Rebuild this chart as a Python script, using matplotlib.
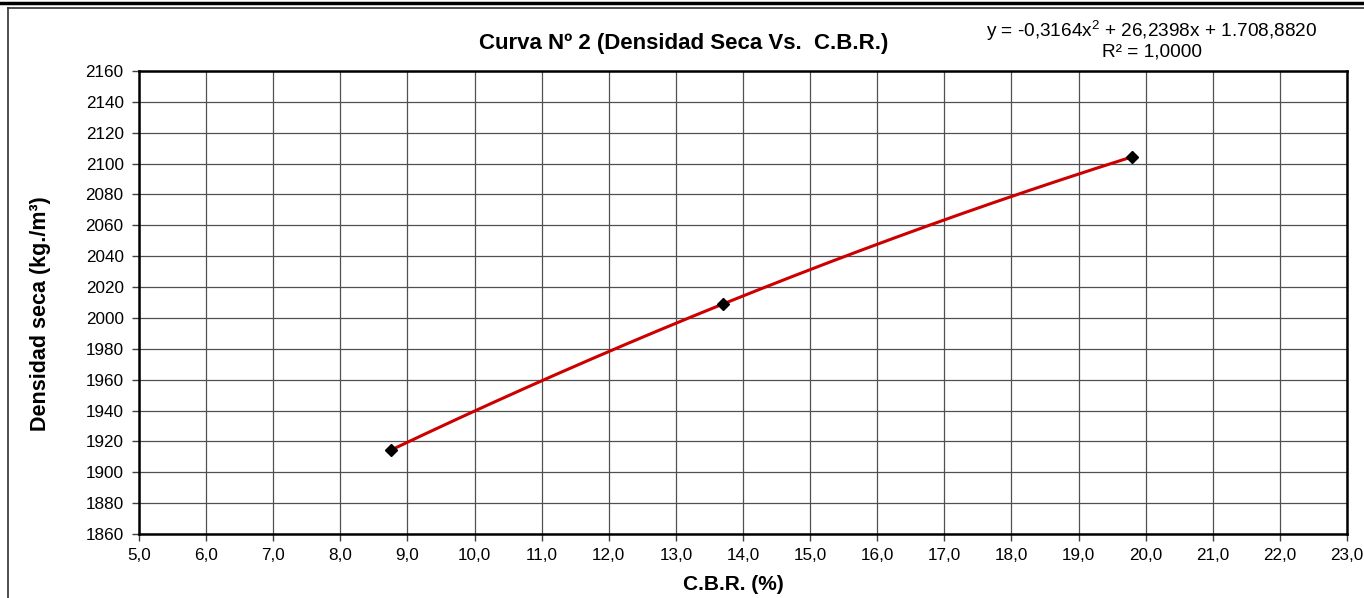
import numpy as np
import matplotlib
matplotlib.use("Agg")
import matplotlib.pyplot as plt
from matplotlib.lines import Line2D

# datos
cbr = [8.75, 13.7, 19.8]
densidad = [1914.3, 2009.0, 2104.4]
x_ticks = np.arange(5, 24, 1)
y_ticks = np.arange(1860, 2161, 20)
titulo = "Curva Nº 2 (Densidad Seca Vs.  C.B.R.)"
ecuacion = "y = -0,3164x$^2$ + 26,2398x + 1.708,8820"
r2 = "R² = 1,0000"

plt.rcParams["font.family"] = ["Liberation Sans", "DejaVu Sans"]
plt.rcParams["mathtext.default"] = "regular"
plt.rcParams["mathtext.fontset"] = "custom"
plt.rcParams["mathtext.rm"] = "Liberation Sans"

W, H = 1364, 598
fig = plt.figure(figsize=(W / 100, H / 100), dpi=100)

# marco exterior
fig.add_artist(Line2D([0, 1], [1 - 2.5 / H, 1 - 2.5 / H], color="black", lw=2.5,
                      transform=fig.transFigure))
fig.add_artist(Line2D([8 / W, 8 / W], [0, 1 - 8 / H], color="#303030", lw=1.2,
                      transform=fig.transFigure))
fig.add_artist(Line2D([8 / W, 1], [1 - 8 / H, 1 - 8 / H], color="#303030", lw=1.2,
                      transform=fig.transFigure))

left, right, top, bottom = 139, 1347, 71, 534
ax = fig.add_axes([left / W, 1 - bottom / H, (right - left) / W, (bottom - top) / H])

ax.set_xlim(5, 23)
ax.set_ylim(1860, 2160)
ax.set_xticks(x_ticks)
ax.set_yticks(y_ticks)
ax.set_xticklabels([f"{v:.1f}".replace(".", ",") for v in x_ticks], fontsize=12.3)
ax.set_yticklabels([str(v) for v in y_ticks], fontsize=12.3)
ax.tick_params(direction="out", length=5, width=1, color="#404040")
ax.tick_params(axis="y", pad=6)
ax.tick_params(axis="x", pad=5)
ax.grid(True, color="#505050", lw=0.9)
ax.set_axisbelow(True)
for s in ax.spines.values():
    s.set_color("black")
    s.set_linewidth(1.8)

# linea de tendencia polinomica (orden 2)
coef = np.polyfit(cbr, densidad, 2)
xs = np.linspace(min(cbr), max(cbr), 200)
ax.plot(xs, np.polyval(coef, xs), color="#cc0000", lw=2.2, zorder=3)
ax.plot(cbr, densidad, linestyle="none", marker="D", color="black", ms=6, zorder=4)

fig.text(733 / W, 1 - 584 / H, "C.B.R. (%)", ha="center", va="center",
         fontsize=15, fontweight="bold")
fig.text(41 / W, 1 - 314 / H, "Densidad seca (kg./m³)", ha="center", va="center",
         rotation=90, fontsize=15.5, fontweight="bold")

fig.text(684 / W, 1 - 43 / H, titulo, ha="center", va="center", fontsize=16, fontweight="bold")
fig.text(1152 / W, 1 - 31 / H, ecuacion, ha="center", va="center", fontsize=13.7)
fig.text(1152 / W, 1 - 52 / H, r2, ha="center", va="center", fontsize=13.7)

fig.savefig("out.png", dpi=100)
